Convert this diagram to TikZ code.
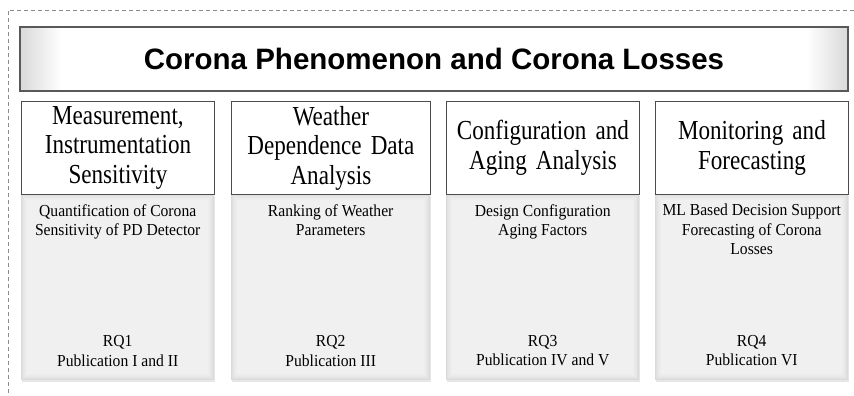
\documentclass[tikz,border=0pt]{standalone}
\usepackage{fontspec}
\setmainfont{Liberation Serif}
\newfontfamily\bannerfont{Liberation Sans}
\newfontfamily\topicfont[FakeStretch=0.84]{Liberation Serif}
\newfontfamily\taskfont[FakeStretch=0.93]{Liberation Serif}
\usetikzlibrary{positioning,shadows}

% grey only near the left and right ends (path spans 25bp to 75bp)
\pgfdeclarehorizontalshading{bannershade}{100bp}{color(0bp)=(gray!30); color(25bp)=(gray!30); color(27.5bp)=(white); color(72.5bp)=(white); color(75bp)=(gray!30); color(100bp)=(gray!30)}

\tikzset{
  frame/.style={draw=gray!90, line width=0.8pt, dash pattern=on 4pt off 3pt},
  banner/.style={draw=gray!70!black, line width=1.2pt, shade, shading=bannershade,
    minimum width=828pt, minimum height=64pt, inner sep=0pt,
    font=\bannerfont\bfseries\fontsize{29.5}{34}\selectfont},
  topic/.style={draw=black!70, line width=0.9pt, fill=white, minimum height=93pt,
    inner sep=0pt, align=center, font=\topicfont\fontsize{27.5}{29.5}\selectfont,
    drop shadow={shadow xshift=1pt, shadow yshift=-1pt, opacity=0.25}},
  panel/.style={minimum height=186pt, inner sep=0pt,
    drop shadow={shadow xshift=1pt, shadow yshift=-1.5pt, opacity=0.2},
    path picture={
      \foreach \k/\c in {0/14,1/12,2/10,3/9,4/8,5/7,6/6}
        \fill[black!\c] ([shift={(\k pt,-\k pt)}]path picture bounding box.north west)
          rectangle ([shift={(-\k pt,\k pt)}]path picture bounding box.south east);
    }},
  task/.style={inner sep=0pt, align=center, font=\taskfont\fontsize{16.8}{19.5}\selectfont},
}

\begin{document}
\begin{tikzpicture}[x=1pt, y=-1pt]
\useasboundingbox (0,0) rectangle (854,396);

% outer dashed frame, only top and left sides
\coordinate (frame-ne) at (854,10);
\coordinate (frame-nw) at (8,10);
\coordinate (frame-sw) at (8,396);
\draw[frame] (frame-ne) -- (frame-nw) -- (frame-sw);

% title
\node[banner] (title) at (434,59) {Corona Phenomenon and Corona Losses};

% columns: body first, header on top
\foreach \x/\w/\h/\t/\q [count=\i] in {
    21/193/{Measurement,\\Instrumentation\\Sensitivity}/{Quantification of Corona\\Sensitivity of PD Detector}/{I and II},
    231/199/{Weather\\Dependence Data\\Analysis}/{Ranking of Weather\\Parameters}/{III},
    446/193/{Configuration and\\Aging Analysis}/{Design Configuration\\Aging Factors}/{IV and V},
    655/193/{Monitoring and\\Forecasting}/{ML Based Decision Support\\Forecasting of Corona\\Losses}/{VI}} {
  \node[panel, minimum width=\w pt, anchor=north west] (panel-\i) at (\x,194) {};
  \node[topic, minimum width=\w pt, text width=\w pt-4pt, anchor=north west] (topic-\i) at (\x,101) {\h};
  \node[task, anchor=north] (task-\i) at ([yshift=-10pt]panel-\i.north) {\t};
  \node[task, anchor=south] (rq-\i) at ([yshift=14pt]panel-\i.south) {RQ\i\\Publication \q};
}

\end{tikzpicture}
\end{document}
